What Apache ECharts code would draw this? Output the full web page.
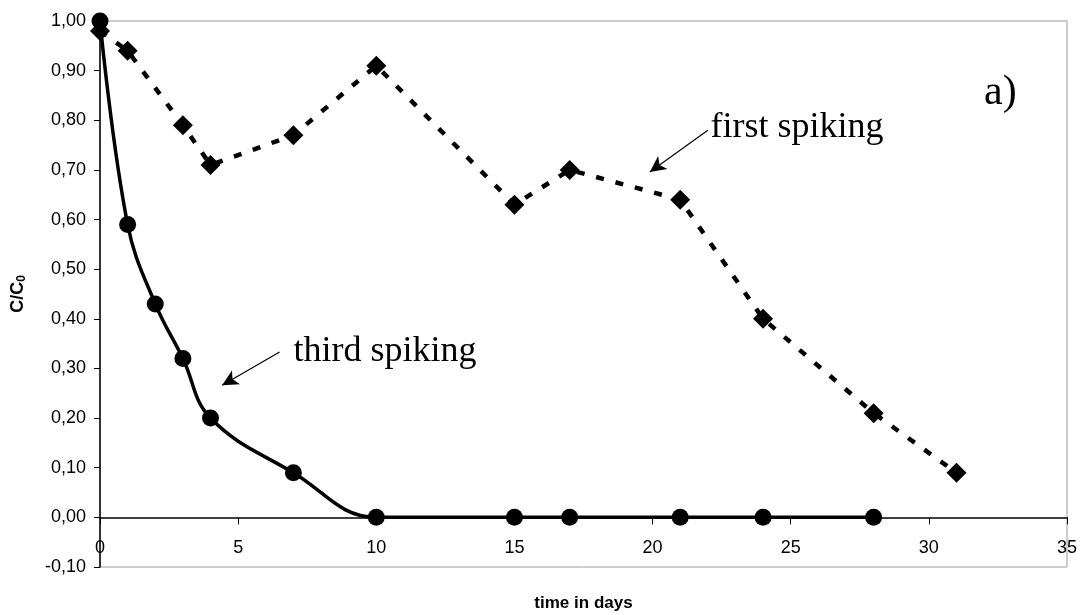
<!DOCTYPE html>
<html>
<head>
<meta charset="utf-8">
<script src="https://cdn.jsdelivr.net/npm/echarts@6/dist/echarts.min.js"></script>
<style>
html,body{margin:0;padding:0;background:#fff;}
#chart{width:1083px;height:615px;}
</style>
</head>
<body>
<div id="chart"></div>
<script>
// ---- data ----
const firstDays   = [0, 1, 3, 4, 7, 10, 15, 17, 21, 24, 28, 31];
const firstValues = [0.98, 0.94, 0.79, 0.71, 0.77, 0.91, 0.63, 0.70, 0.64, 0.40, 0.21, 0.09];
const thirdDays   = [0, 1, 2, 3, 4, 7, 10, 15, 17, 21, 24, 28];
const thirdValues = [1.00, 0.59, 0.43, 0.32, 0.20, 0.09, 0.00, 0.00, 0.00, 0.00, 0.00, 0.00];
const xTicks = [0, 5, 10, 15, 20, 25, 30, 35];
const yTicks = [-0.10, 0.00, 0.10, 0.20, 0.30, 0.40, 0.50, 0.60, 0.70, 0.80, 0.90, 1.00];
// annotations (data coordinates)
const annFirst = {text: 'first spiking', at: [22.1, 0.785], arrowFrom: [22.0, 0.78], arrowTo: [19.9, 0.696]};
const annThird = {text: 'third spiking', at: [7.0, 0.335], arrowFrom: [6.5, 0.333], arrowTo: [4.42, 0.266]};
const annPanel = {text: 'a)', at: [32.0, 0.855]};

const chart = echarts.init(document.getElementById('chart'));
const pair = (xs, ys) => xs.map((x, i) => [x, ys[i]]);
const fmt = v => v.toFixed(2).replace('.', ',');

const option = {
  backgroundColor: '#ffffff',
  animation: false,
  grid: {left: 100, right: 16, top: 21, bottom: 48, containLabel: false, outerBoundsMode: 'none',
         show: true, borderColor: '#9a9a9a', borderWidth: 1, backgroundColor: 'transparent'},
  xAxis: {
    type: 'value', min: xTicks[0], max: xTicks[xTicks.length - 1], interval: 5,
    name: 'time in days', nameLocation: 'middle', nameGap: 28,
    nameTextStyle: {fontFamily: 'Liberation Sans', fontWeight: 'bold', fontSize: 17, color: '#000'},
    axisLine: {onZero: true, lineStyle: {color: '#000', width: 1.5}},
    axisTick: {show: true, length: 7, lineStyle: {color: '#000', width: 1}},
    axisLabel: {margin: -28, fontFamily: 'Liberation Sans', fontSize: 18, color: '#000',
                formatter: v => String(v)},
    splitLine: {show: false}
  },
  yAxis: {
    type: 'value', min: yTicks[0], max: yTicks[yTicks.length - 1], interval: 0.1,
    name: '{a|C/C}{b|0}', nameLocation: 'middle', nameGap: 72, nameRotate: 90,
    nameTextStyle: {rich: {
      a: {fontFamily: 'Liberation Sans', fontWeight: 'bold', fontSize: 18, color: '#000'},
      b: {fontFamily: 'Liberation Sans', fontWeight: 'bold', fontSize: 12, color: '#000', padding: [8, 0, 0, 0]}
    }},
    axisLine: {show: true, onZero: false, lineStyle: {color: '#000', width: 1.5}},
    axisTick: {show: true, length: 6, lineStyle: {color: '#000', width: 1}},
    axisLabel: {margin: 14, fontFamily: 'Liberation Sans', fontSize: 18, color: '#000', formatter: fmt},
    splitLine: {show: false}
  },
  series: [
    {
      name: 'first spiking', type: 'line', data: pair(firstDays, firstValues),
      symbol: 'diamond', symbolSize: 20, itemStyle: {color: '#000'},
      lineStyle: {color: '#000', width: 4.5, type: [8, 12]},
      markLine: {
        silent: true, symbol: ['none', 'arrow'], symbolSize: [12, 16],
        label: {show: false},
        lineStyle: {color: '#000', width: 1.2, type: 'solid'},
        data: [[{coord: annFirst.arrowFrom}, {coord: annFirst.arrowTo}]]
      },
      z: 2
    },
    {
      name: 'third spiking', type: 'line', data: pair(thirdDays, thirdValues),
      smooth: 0.4,
      symbol: 'circle', symbolSize: 17, itemStyle: {color: '#000'},
      lineStyle: {color: '#000', width: 3.5},
      markLine: {
        silent: true, symbol: ['none', 'arrow'], symbolSize: [12, 16],
        label: {show: false},
        lineStyle: {color: '#000', width: 1.2, type: 'solid'},
        data: [[{coord: annThird.arrowFrom}, {coord: annThird.arrowTo}]]
      },
      z: 3
    }
  ]
};
chart.setOption(option);

function place(ann, size) {
  const p = chart.convertToPixel({gridIndex: 0}, ann.at);
  return {
    type: 'text', x: p[0], y: p[1], z: 10,
    style: {text: ann.text, fontFamily: 'Liberation Serif', fontSize: size, fill: '#000',
            textAlign: 'left', textVerticalAlign: 'middle'}
  };
}
chart.setOption({graphic: [place(annFirst, 36), place(annThird, 36), place(annPanel, 42)]});
</script>
</body>
</html>
